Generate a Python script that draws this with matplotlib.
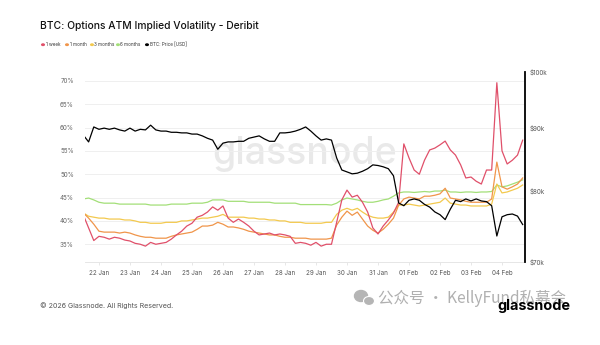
import numpy as np
import pandas as pd
import matplotlib
matplotlib.use('Agg')
import matplotlib.pyplot as plt
import matplotlib.dates as mdates
import matplotlib.ticker as mticker
from matplotlib.patches import Ellipse

plt.rcParams['font.family'] = ['Inter', 'DejaVu Sans']

# 4-hourly samples, 21 Jan 12:00 -> 04 Feb 20:00
times = pd.date_range('2026-01-21 12:00', periods=86, freq='4h')

iv_1w = [41.2, 38.5, 35.8, 36.7, 36.5, 36.1, 36.5, 36.3, 35.9, 35.7, 35.2, 35.0,
         34.6, 35.4, 35.0, 35.2, 35.4, 36.1, 37.0, 37.8, 38.9, 39.5, 40.8, 41.2,
         41.9, 43.0, 42.3, 43.2, 40.6, 39.7, 40.4, 39.7, 38.9, 37.8, 37.0, 37.2,
         37.4, 37.0, 37.2, 37.0, 36.7, 35.2, 35.4, 35.2, 34.8, 35.4, 34.6, 35.0,
         35.0, 39.7, 44.5, 46.6, 45.1, 45.5, 44.0, 41.9, 38.5, 37.2, 38.9, 40.2,
         41.7, 44.0, 56.5, 53.5, 50.9, 50.0, 53.0, 55.2, 55.6, 56.3, 57.1, 55.2,
         54.1, 52.0, 49.2, 49.4, 48.5, 47.9, 50.9, 50.9, 69.6, 55.0, 52.2, 53.0,
         54.1, 57.3]
iv_1m = [41.7, 40.6, 39.3, 37.8, 37.6, 37.6, 37.6, 37.4, 37.6, 37.4, 37.0, 36.7,
         36.5, 36.5, 36.3, 36.3, 36.3, 36.7, 37.0, 37.2, 37.4, 37.6, 38.2, 38.9,
         38.9, 39.1, 39.7, 39.3, 38.7, 38.7, 38.5, 38.2, 37.8, 37.6, 37.4, 37.2,
         37.0, 37.0, 36.7, 36.5, 36.5, 36.3, 36.3, 36.3, 36.1, 36.1, 36.1, 36.1,
         36.3, 39.1, 40.8, 42.1, 41.2, 41.9, 40.4, 38.9, 38.0, 37.4, 38.2, 39.3,
         40.6, 43.4, 44.7, 45.1, 44.9, 44.7, 45.3, 45.3, 45.5, 45.8, 47.0, 44.9,
         44.7, 44.5, 44.2, 44.0, 44.0, 44.0, 44.0, 44.7, 52.6, 47.3, 46.8, 47.3,
         47.9, 49.2]
iv_3m = [41.7, 41.0, 40.8, 40.6, 40.6, 40.4, 40.4, 40.4, 40.2, 40.2, 40.0, 39.7,
         39.7, 39.5, 39.5, 39.5, 39.7, 39.7, 39.7, 40.0, 40.0, 40.2, 40.4, 40.6,
         40.6, 40.8, 41.0, 41.4, 40.8, 40.8, 40.8, 40.8, 40.6, 40.6, 40.4, 40.4,
         40.2, 40.2, 40.0, 40.0, 39.7, 39.7, 39.7, 39.5, 39.5, 39.5, 39.5, 39.7,
         39.7, 41.4, 42.3, 42.7, 42.3, 42.7, 41.9, 41.2, 40.8, 40.6, 40.6, 40.8,
         41.9, 43.4, 43.4, 43.6, 43.4, 43.2, 43.4, 43.6, 43.8, 44.0, 44.9, 43.8,
         43.6, 43.4, 43.4, 43.2, 43.2, 43.2, 43.2, 43.6, 47.9, 46.0, 46.2, 46.6,
         47.0, 47.7]
iv_6m = [44.7, 44.9, 44.5, 44.0, 43.8, 43.8, 43.8, 43.6, 43.6, 43.6, 43.6, 43.6,
         43.6, 43.4, 43.4, 43.4, 43.4, 43.6, 43.6, 43.6, 43.6, 43.8, 43.8, 43.8,
         44.0, 44.5, 44.5, 44.5, 44.2, 44.2, 44.2, 44.2, 44.0, 44.0, 44.0, 44.0,
         44.0, 43.8, 43.8, 43.8, 43.8, 43.8, 43.5, 43.5, 43.5, 43.5, 43.5, 43.5,
         43.4, 43.8, 44.5, 44.9, 44.7, 44.5, 44.2, 44.0, 44.0, 44.2, 44.5, 44.7,
         45.3, 46.0, 46.2, 46.2, 46.1, 46.2, 46.3, 46.2, 46.4, 46.4, 46.6, 46.2,
         46.2, 46.1, 46.2, 46.2, 46.1, 46.2, 46.2, 46.3, 47.7, 47.3, 47.5, 47.9,
         48.3, 48.8]
price_k = [88.8, 87.7, 90.2, 89.8, 90.0, 89.8, 90.0, 89.7, 89.5, 90.0, 89.5, 89.8,
           89.7, 90.5, 89.7, 89.5, 89.5, 89.3, 89.3, 89.2, 89.2, 89.0, 89.0, 88.7,
           88.3, 88.0, 86.5, 87.5, 87.7, 87.7, 87.8, 87.8, 88.3, 88.5, 88.7, 88.2,
           87.8, 87.8, 89.2, 89.2, 89.3, 89.5, 89.8, 90.2, 89.5, 88.7, 88.0, 88.2,
           88.0, 85.1, 83.2, 82.9, 82.6, 82.7, 83.0, 83.4, 84.0, 83.9, 83.7, 83.4,
           82.3, 78.2, 77.8, 78.6, 78.8, 78.6, 78.0, 77.6, 76.9, 76.5, 75.8, 77.3,
           78.6, 78.4, 78.8, 78.5, 78.8, 78.5, 78.4, 77.8, 73.5, 76.2, 76.5, 76.6,
           76.3, 75.1]
price = [p * 1000 for p in price_k]

labels = ['1 week', '1 month', '3 months', '6 months', 'BTC: Price [USD]']
colors = ['#e0506a', '#f0954a', '#f3c94e', '#a3df78', '#000000']

fig = plt.figure(figsize=(6, 3.45), dpi=100)
fig.patch.set_facecolor('white')
W, H = 600, 345
ax = fig.add_axes([85 / W, 1 - 262 / H, 440 / W, 190 / H])

# background watermark
ax.text(0.5, 0.57, 'glassnode', transform=ax.transAxes, ha='center', va='center',
        fontsize=27, color='#e9e9e9', fontweight='medium', zorder=0)

for vals, c in zip([iv_6m, iv_3m, iv_1m, iv_1w], colors[3::-1]):
    ax.plot(times, vals, color=c, lw=0.9, zorder=2)

ax.set_ylim(31.2, 71.9)
ax.set_yticks([35, 40, 45, 50, 55, 60, 65, 70])
ax.yaxis.set_major_formatter(mticker.FuncFormatter(lambda v, p: f'{v:.0f}%'))
ax.grid(axis='y', color='#efefef', lw=0.7)
ax.set_axisbelow(True)
ax.set_xlim(pd.Timestamp('2026-01-22') - pd.Timedelta(hours=10.8),
            pd.Timestamp('2026-01-22') + pd.Timedelta(hours=329.8))
ax.xaxis.set_major_locator(mdates.DayLocator())
ax.xaxis.set_major_formatter(mdates.DateFormatter('%d %b'))
ax.tick_params(axis='y', length=0, pad=8, labelsize=4.5, labelcolor='#666666')
ax.tick_params(axis='x', length=2, width=0.5, color='#dddddd', pad=4,
               labelsize=4.5, labelcolor='#555555')
for s in ['top', 'left', 'right']:
    ax.spines[s].set_visible(False)
ax.spines['bottom'].set_color('#e6e6e6')
ax.spines['bottom'].set_linewidth(0.7)

ax2 = ax.twinx()
ax2.plot(times, price, color='black', lw=0.9, zorder=3)
ax2.set_yscale('log')
ax2.set_ylim(70000, 100000)
ax2.yaxis.set_major_locator(mticker.FixedLocator([70000, 80000, 90000, 100000]))
ax2.yaxis.set_minor_locator(mticker.NullLocator())
ax2.yaxis.set_major_formatter(mticker.FuncFormatter(lambda v, p: f'${v / 1000:.0f}k'))
ax2.tick_params(axis='y', length=0, pad=3, labelsize=4.5, labelcolor='#555555')
for s in ['top', 'left', 'bottom']:
    ax2.spines[s].set_visible(False)
ax2.spines['right'].set_linewidth(1.3)
ax2.spines['right'].set_color('black')

# title and legend
fig.text(40 / W, 1 - 26 / H, 'BTC: Options ATM Implied Volatility - Deribit',
         fontsize=7.4, color='#111111', va='center', ha='left', fontweight='medium')
leg_x = [43, 67, 92, 118, 147]
for x, lab, c in zip(leg_x, labels, colors):
    fig.patches.append(plt.Circle((x / W, 1 - 44.7 / H), 1.3 / W, color=c,
                                  transform=fig.transFigure, figure=fig))
    fig.text((x + 2.5) / W, 1 - 44.7 / H, lab, fontsize=3.3, color='#333333',
             va='center', ha='left')

# footer
fig.text(40 / W, 1 - 306 / H, '\u00a9 2026 Glassnode. All Rights Reserved.',
         fontsize=5.1, color='#555555', va='center', ha='left')
# wechat-style icon
fig.patches.append(Ellipse((361 / W, 1 - 296 / H), 13 / W, 11 / H, color='#b5b5b5',
                           transform=fig.transFigure, figure=fig))
fig.patches.append(Ellipse((369 / W, 1 - 301 / H), 11 / W, 9 / H, facecolor='#b5b5b5',
                           edgecolor='white', lw=0.8,
                           transform=fig.transFigure, figure=fig))
fig.text(378 / W, 1 - 298 / H, '公众号 · KellyFund私募会', fontsize=11.2,
         color='#b0b0b0', va='center', ha='left',
         family=['Noto Sans CJK SC', 'DejaVu Sans'])
fig.text(570 / W, 1 - 306 / H, 'glassnode', fontsize=10.4, color='black',
         fontweight='bold', va='center', ha='right')

fig.savefig('out.png', dpi=100, facecolor='white')
